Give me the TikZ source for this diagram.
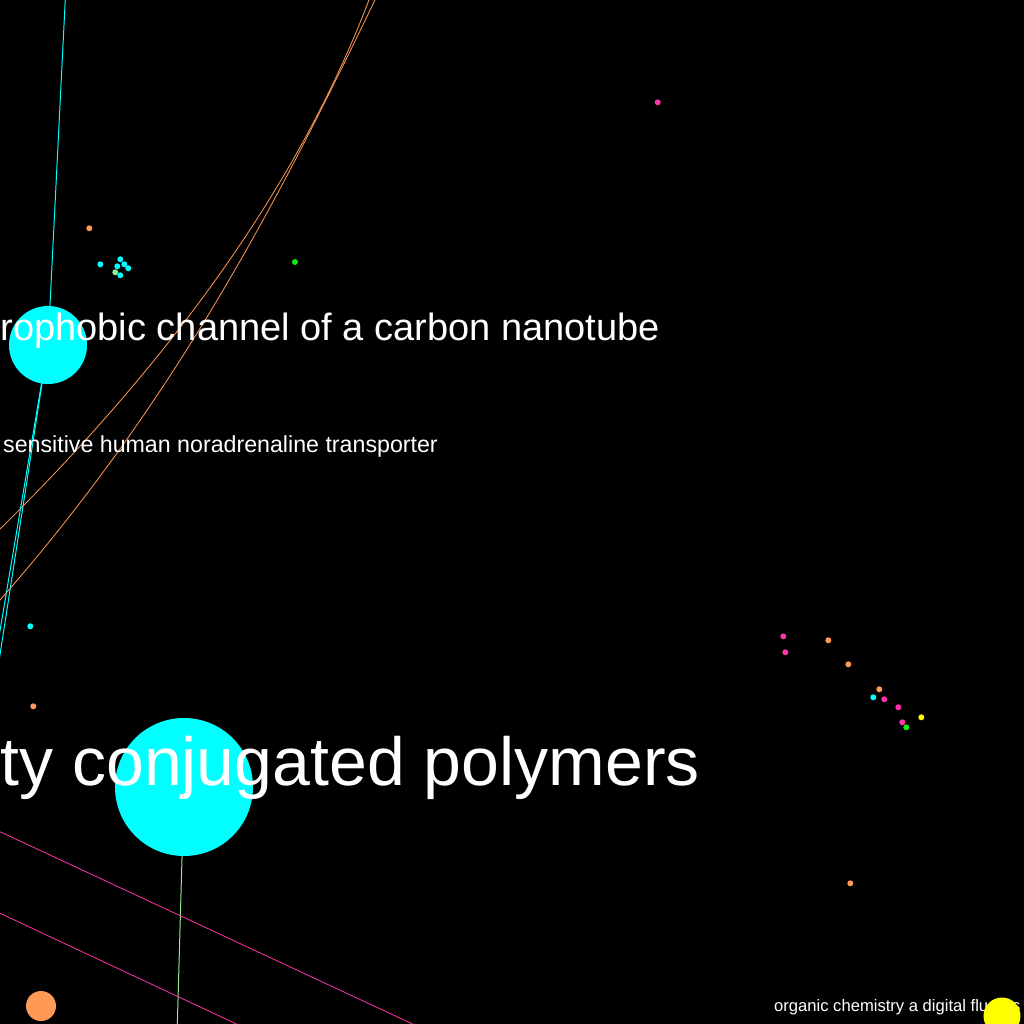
\documentclass[tikz,border=0pt]{standalone}
\usepackage{fontspec}
\setmainfont{Liberation Sans}
\definecolor{ccyan}{RGB}{0,255,255}
\definecolor{corange}{RGB}{255,153,85}
\definecolor{cpink}{RGB}{255,51,170}
\definecolor{cyellow}{RGB}{255,255,0}
\definecolor{cgreen}{RGB}{20,235,20}
\definecolor{clgreen}{RGB}{144,238,144}
\tikzset{
  big/.style={circle, inner sep=0pt, draw=none},
  dot/.style={circle, inner sep=0pt, minimum size=6pt, draw=none},
  edge/.style={line width=1pt},
  thinedge/.style={line width=0.8pt},
  lbl/.style={text=white, inner sep=0pt},
}
\begin{document}
\begin{tikzpicture}[x=1pt,y=-1pt]
\useasboundingbox (0,0) rectangle (1024,1024);
\fill[black] (0,0) rectangle (1024,1024);
\clip (0,0) rectangle (1024,1024);
% off-canvas end points
\coordinate (t1) at (70.25,-100);
\coordinate (l1) at (-20,783.7);
\coordinate (l2) at (-20,749.8);
\coordinate (b1) at (175.2,1100);
\coordinate (p1a) at (-20,822.4);
\coordinate (p1b) at (430,1032.1);
\coordinate (p2a) at (-20,903.9);
\coordinate (p2b) at (260,1035);
\coordinate (o1a) at (383.2,-40);
\coordinate (o1b) at (-32,560);
\coordinate (o2a) at (394.2,-40);
\coordinate (o2b) at (-36.1,640);
% nodes (positions)
\coordinate (n1) at (48,345);
\coordinate (n2) at (184,787);
% edges
\draw[edge, ccyan] (n1) -- (t1);
\draw[edge, ccyan] (n1) -- (l1);
\draw[edge, ccyan] (n1) -- (l2);
\draw[edge, clgreen] (n2) -- (b1);
\draw[thinedge, cpink] (p1a) -- (p1b);
\draw[thinedge, cpink] (p2a) -- (p2b);
\draw[thinedge, corange] (o1a) .. controls (316.8,160) and (178.4,360) .. (o1b);
\draw[thinedge, corange] (o2a) .. controls (285.5,186.67) and (174.5,413.33) .. (o2b);
% big nodes
\node[big, fill=ccyan, minimum size=78pt] (N1) at (n1) {};
\node[big, fill=ccyan, minimum size=138pt] (N2) at (n2) {};
\node[big, fill=corange, minimum size=30pt] (N3) at (41,1006) {};
% small dots
\node[dot, fill=corange] (d1) at (89.3,228.3) {};
\node[dot, fill=ccyan] (d2) at (100.3,264.3) {};
\node[dot, fill=ccyan] (d3) at (120.3,259.3) {};
\node[dot, fill=ccyan] (d4) at (124.3,264.3) {};
\node[dot, fill=ccyan] (d5) at (117.3,266.3) {};
\node[dot, fill=ccyan] (d6) at (128.3,268.3) {};
\node[dot, fill=clgreen] (d7) at (115.3,272.3) {};
\node[dot, fill=ccyan] (d8) at (120.3,275.3) {};
\node[dot, fill=cgreen] (d9) at (295,262) {};
\node[dot, fill=cpink] (d10) at (657.7,102.3) {};
\node[dot, fill=ccyan] (d11) at (30.3,626.3) {};
\node[dot, fill=corange] (d12) at (33.3,706.3) {};
\node[dot, fill=corange] (d13) at (850.3,883.3) {};
\node[dot, fill=cpink] (d14) at (783.3,636.3) {};
\node[dot, fill=cpink] (d15) at (785.3,652.3) {};
\node[dot, fill=corange] (d16) at (828.3,640.3) {};
\node[dot, fill=corange] (d17) at (848.3,664.3) {};
\node[dot, fill=corange] (d18) at (879.3,689.3) {};
\node[dot, fill=ccyan] (d19) at (873.3,697.3) {};
\node[dot, fill=cpink] (d20) at (884.3,699.3) {};
\node[dot, fill=cpink] (d21) at (898.3,707.3) {};
\node[dot, fill=cyellow] (d22) at (921.3,717.3) {};
\node[dot, fill=cpink] (d23) at (902.3,722.3) {};
\node[dot, fill=cgreen] (d24) at (906.3,727.3) {};
% labels
\node[lbl, anchor=base east, font=\fontsize{38}{40}\selectfont] (L1) at (660,340) {rophobic channel of a carbon nanotube};
\node[lbl, anchor=base west, font=\fontsize{23.2}{25}\selectfont] (L2) at (3,452) {sensitive human noradrenaline transporter};
\node[lbl, anchor=base east, font=\fontsize{68}{70}\selectfont] (L3) at (700,785) {ty conjugated polymers};
\node[lbl, anchor=base west, font=\fontsize{16.6}{18}\selectfont] (L4) at (774,1011) {organic chemistry a digital fluores};
\node[big, fill=cyellow, minimum size=37pt] (N4) at (1002,1016) {};
\end{tikzpicture}
\end{document}
